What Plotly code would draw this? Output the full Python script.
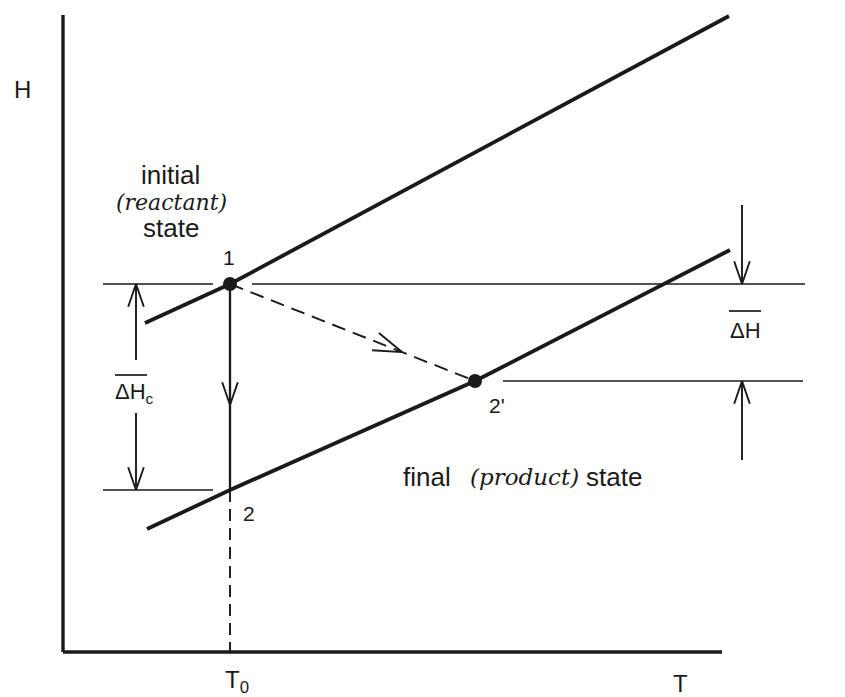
import math
import plotly.graph_objects as go

# Diagram units: T to the right, H upward (one unit = one pixel on the canvas)
W, HT = 845, 697

# Enthalpy of the initial (reactant) state vs temperature
reactant_T = [145, 230, 729]
reactant_H = [374, 413, 681]

# Enthalpy of the final (product) state vs temperature
product_T = [147, 230, 475, 730]
product_H = [168, 207, 316, 447]

# Marked states
state1 = (230, 413)
state2 = (230, 207)
state2p = (475, 316)

# Axes of the diagram
T_axis = {"T0": 63, "T1": 722, "H": 45}
H_axis = {"T": 63, "H0": 45, "H1": 682}
T0 = 230

INK = "#1a1a1a"

fig = go.Figure()


def seg(xs, ys, width=1.7, dash=None, color=INK):
    fig.add_trace(go.Scatter(
        x=xs, y=ys, mode="lines",
        line=dict(color=color, width=width, dash=dash),
        hoverinfo="skip", showlegend=False))


def vhead(tip, tail, length=24, half=19, width=1.9):
    """Open V arrowhead at `tip`, pointing away from `tail`."""
    dx, dy = tip[0] - tail[0], tip[1] - tail[1]
    n = math.hypot(dx, dy)
    ux, uy = -dx / n, -dy / n
    a = math.radians(half)
    xs, ys = [], []
    for s in (a, -a):
        rx = ux * math.cos(s) - uy * math.sin(s)
        ry = ux * math.sin(s) + uy * math.cos(s)
        xs.append(tip[0] + rx * length)
        ys.append(tip[1] + ry * length)
    seg([xs[0], tip[0], xs[1]], [ys[0], tip[1], ys[1]], width=width)


# Axes
seg([H_axis["T"], H_axis["T"]], [H_axis["H1"], H_axis["H0"]], width=3.4)
seg([T_axis["T0"], T_axis["T1"]], [T_axis["H"], T_axis["H"]], width=3.4)

# Reference levels
seg([103, 213], [state1[1], state1[1]])
seg([252, 805], [state1[1], state1[1]])
seg([103, 213], [state2[1], state2[1]])
seg([503, 803], [state2p[1], state2p[1]])

# Enthalpy curves
seg(reactant_T, reactant_H, width=3.8)
seg(product_T, product_H, width=3.8)

# Isothermal path 1 -> 2 with arrow
seg([state1[0], state2[0]], [state1[1], state2[1]], width=2.3)
vhead((T0, 292), (T0, 413))

# Dashed drop from state 2 to T0 on the axis
seg([T0, T0], [state2[1], T_axis["H"]], width=1.9, dash="12px,7px")

# Adiabatic path 1 -> 2'
seg([state1[0], state2p[0]], [state1[1], state2p[1]], width=1.9, dash="14px,8px")
frac = (402 - state1[0]) / (state2p[0] - state1[0])
tip = (402, state1[1] + frac * (state2p[1] - state1[1]))
vhead(tip, state1, length=30, half=18)

# Delta H_c dimension arrows
xc = 136
seg([xc, xc], [337, state1[1]], width=1.9)
vhead((xc, state1[1]), (xc, 337))
seg([xc, xc], [284, state2[1]], width=1.9)
vhead((xc, state2[1]), (xc, 284))

# Delta H dimension arrows
xr = 742
seg([xr, xr], [492, state1[1]], width=1.9)
vhead((xr, state1[1]), (xr, 492))
seg([xr, xr], [237, state2p[1]], width=1.9)
vhead((xr, state2p[1]), (xr, 237))

# Overbars on the Delta H symbols
seg([115, 147], [322, 322], width=1.7)
seg([729, 761], [386, 386], width=1.7)

# State markers
fig.add_trace(go.Scatter(
    x=[state1[0], state2p[0]], y=[state1[1], state2p[1]], mode="markers",
    marker=dict(color=INK, size=14), hoverinfo="skip", showlegend=False))

SANS = "Liberation Sans, Arial, sans-serif"
SERIF = "DejaVu Serif, serif"


def label(x, y, text, size=26, family=SANS, xanchor="center"):
    fig.add_annotation(x=x, y=y, text=text, showarrow=False, xref="x", yref="y",
                       xanchor=xanchor, yanchor="middle",
                       font=dict(family=family, size=size, color=INK))


label(22, 608, "H", size=24)
label(170, 522, "initial")
label(171, 495, "<i>(reactant)</i>", size=22, family=SERIF)
label(171, 469, "state")
label(229, 440, "1", size=21)
label(249, 184, "2", size=21)
label(497, 292, "2'", size=21)
label(134, 304, "ΔH<sub>c</sub>", size=22)
label(745, 367, "ΔH", size=22)
label(401, 220, "final", xanchor="left")
label(468, 220, "<i>(product)</i>", size=23, family=SERIF, xanchor="left")
label(584, 220, "state", xanchor="left")
label(237, 16, "T<sub>0</sub>", size=24)
label(680, 14, "T", size=24)

fig.update_layout(
    width=W, height=HT,
    margin=dict(l=0, r=0, t=0, b=0),
    paper_bgcolor="white", plot_bgcolor="white",
    xaxis=dict(range=[0, W], visible=False, fixedrange=True),
    yaxis=dict(range=[0, HT], visible=False, fixedrange=True),
)

fig.write_html("out.html")
